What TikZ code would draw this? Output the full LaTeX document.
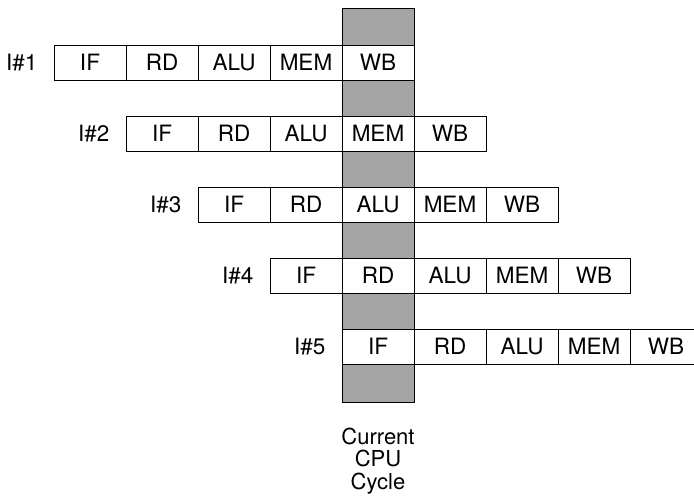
\documentclass[tikz,border=0pt]{standalone}
\usepackage{fontspec}
\setmainfont{TeX Gyre Heros}
\usetikzlibrary{positioning}
\definecolor{shade}{HTML}{A4A4A4}

\begin{document}
\begin{tikzpicture}[x=1pt,y=-1pt,every node/.style={font=\fontsize{22.5}{22}\selectfont},
    stage/.style={draw,fill=white,line width=1pt,minimum width=72pt,minimum height=35pt,inner sep=0pt,outer sep=0pt}]
      \useasboundingbox (0,0) rectangle (694,499);
      \clip (0,0) rectangle (694,499);
      \draw[fill=shade,line width=1pt] (342,8) rectangle (414,402);
      \foreach \i in {1,...,5} {
        \foreach \s [count=\j] in {IF,RD,ALU,MEM,WB}
          \node[stage] (r\i-\j) at ({54+72*(\i+\j-2)+36},{62.5+71*(\i-1)}) {\s};
        \node[left=13pt of r\i-1] (lbl\i) {I\#\i};
      }
      \node[align=center,inner sep=0pt,font=\fontsize{22}{22.5}\selectfont] (cycle) at (378,461) {Current\\CPU\\Cycle};
    \end{tikzpicture}
\end{document}
